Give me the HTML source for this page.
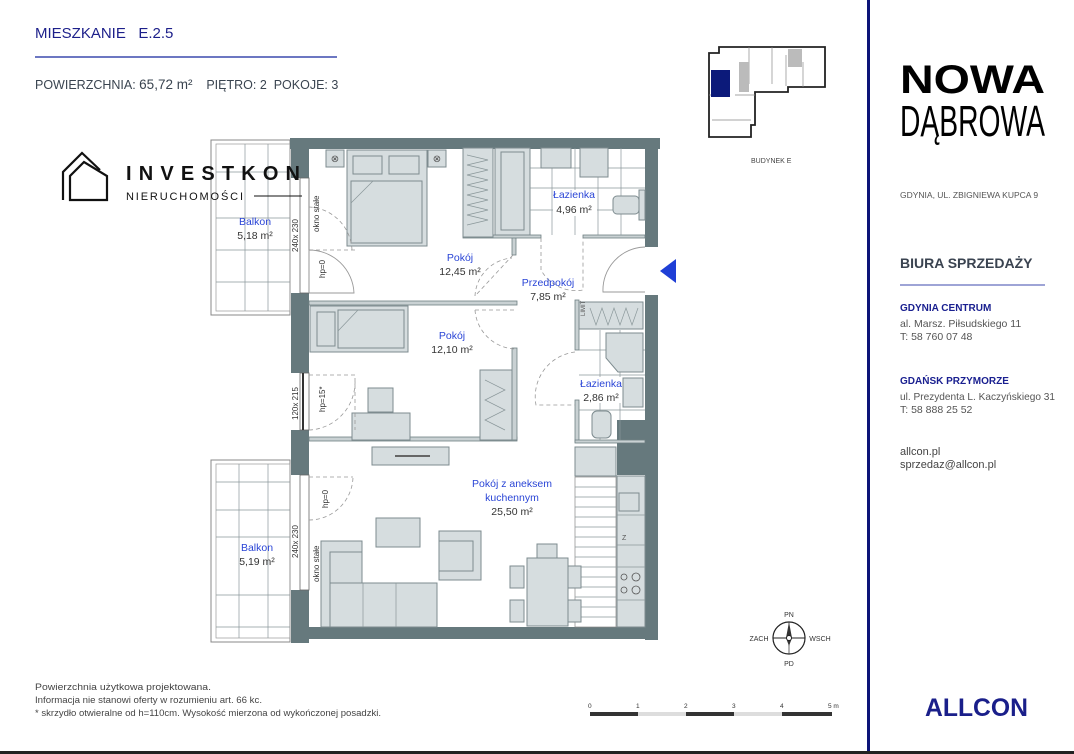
<!DOCTYPE html>
<html><head><meta charset="utf-8"><style>
html,body{margin:0;padding:0;background:#fff;}
svg{display:block;}
text{font-family:"Liberation Sans",sans-serif;}
.b{fill:#2a45d6;font-size:10.5px;text-anchor:middle;}
.d{fill:#333;font-size:10.5px;text-anchor:middle;}
.f{fill:#d6dddf;stroke:#7d8b8f;stroke-width:1;}
.g{stroke:#8a979a;stroke-width:0.7;fill:none;}
.w{fill:#66797d;}
.dash{stroke:#999;stroke-width:0.8;fill:none;stroke-dasharray:4,3;}
</style></head><body>
<svg width="1074" height="754" viewBox="0 0 1074 754" xmlns="http://www.w3.org/2000/svg">
<rect width="1074" height="754" fill="#fff"/>
<text x="35" y="38" fill="#1c1f8a" font-size="15">MIESZKANIE&#160;&#160;&#160;E.2.5</text>
<line x1="35" y1="57" x2="337" y2="57" stroke="#3c4aad" stroke-width="1.5"/>
<text x="35" y="89" fill="#3a4450" font-size="12.5">POWIERZCHNIA:  <tspan font-size="13.5">65,72 m²</tspan>&#160;&#160;&#160;&#160;PIĘTRO:  2&#160;&#160;POKOJE:  3</text>

<g>
<rect x="211" y="140" width="79" height="175" fill="#fff" stroke="#888" stroke-width="1"/>
<rect x="216" y="144" width="74" height="167" fill="none" stroke="#999" stroke-width="0.7"/>
<g class="g">
<line x1="245" y1="144" x2="245" y2="311"/><line x1="268" y1="144" x2="268" y2="311"/>
<line x1="216" y1="172" x2="290" y2="172"/><line x1="216" y1="218" x2="290" y2="218"/><line x1="216" y1="250" x2="290" y2="250"/><line x1="216" y1="282" x2="290" y2="282"/>
</g>
<rect x="211" y="460" width="79" height="182" fill="#fff" stroke="#888" stroke-width="1"/>
<rect x="216" y="464" width="74" height="174" fill="none" stroke="#999" stroke-width="0.7"/>
<g class="g">
<line x1="239" y1="464" x2="239" y2="638"/><line x1="268" y1="464" x2="268" y2="638"/>
<line x1="216" y1="482" x2="290" y2="482"/><line x1="216" y1="510" x2="290" y2="510"/><line x1="216" y1="537" x2="290" y2="537"/><line x1="216" y1="595" x2="290" y2="595"/><line x1="216" y1="627" x2="290" y2="627"/>
</g>
</g>
<text class="b" x="255" y="225">Balkon</text><text class="d" x="255" y="239">5,18 m²</text>
<text class="b" x="257" y="551">Balkon</text><text class="d" x="257" y="565">5,19 m²</text>

<rect class="w" x="290" y="138" width="370" height="11"/>
<rect class="w" x="291" y="138" width="18" height="40"/>
<rect class="w" x="291" y="293" width="18" height="80"/>
<rect class="w" x="291" y="430" width="18" height="45"/>
<rect class="w" x="291" y="590" width="18" height="53"/>
<rect class="w" x="645" y="138" width="13" height="109"/>
<rect class="w" x="645" y="295" width="13" height="345"/>
<rect class="w" x="300" y="627" width="358" height="12"/>
<rect class="w" x="617" y="420" width="28" height="55"/>
<g fill="#fff" stroke="#666" stroke-width="0.8">
<rect x="300" y="178" width="9" height="115"/><rect x="300" y="373" width="9" height="57"/><rect x="300" y="475" width="9" height="115"/>
</g>
<line x1="303" y1="373" x2="303" y2="430" stroke="#333" stroke-width="2"/>
<g fill="#c9d1d3" stroke="#6f7f83" stroke-width="0.8">
<rect x="309" y="301" width="208" height="4"/>
<rect x="309" y="437" width="208" height="4"/>
<rect x="512" y="348" width="5" height="92"/>
<rect x="512" y="235" width="4" height="20"/>
<rect x="463" y="235" width="78" height="3"/><rect x="583" y="235" width="62" height="3"/>
<rect x="575" y="300" width="4" height="50"/><rect x="575" y="400" width="4" height="42"/>
<rect x="575" y="440" width="70" height="3"/>
</g>
<rect class="f" x="326" y="150" width="18" height="17"/><rect class="f" x="428" y="150" width="18" height="17"/>
<text x="335" y="162" font-size="10" text-anchor="middle" fill="#555">⊗</text><text x="437" y="162" font-size="10" text-anchor="middle" fill="#555">⊗</text>
<rect class="f" x="347" y="150" width="80" height="96"/>
<rect class="f" x="353" y="156" width="29" height="18"/><rect class="f" x="389" y="156" width="30" height="18"/>
<rect class="f" x="351" y="181" width="71" height="62"/><polyline class="g" points="351,203 373,181"/>
<rect class="f" x="463" y="148" width="30" height="89"/>
<polyline class="g" points="467,155 488,160 467,165 488,170 467,175 488,180 467,185 488,190 467,195 488,200 467,205 488,210 467,215 488,220 467,225"/>
<rect class="f" x="495" y="148" width="35" height="87"/><rect class="f" x="501" y="152" width="23" height="78"/>
<g class="g">
<line x1="530" y1="168" x2="645" y2="168"/><line x1="530" y1="188" x2="645" y2="188"/><line x1="530" y1="210" x2="645" y2="210"/>
<line x1="552" y1="148" x2="552" y2="235"/><line x1="575" y1="148" x2="575" y2="235"/><line x1="598" y1="148" x2="598" y2="235"/><line x1="621" y1="148" x2="621" y2="235"/>
</g>
<rect class="f" x="541" y="148" width="30" height="20"/><rect class="f" x="580" y="148" width="28" height="29"/>
<rect class="f" x="613" y="196" width="26" height="18" rx="4"/><rect class="f" x="639" y="190" width="6" height="30"/>
<rect x="553" y="190" width="44" height="26" fill="#fff"/>
<rect class="f" x="310" y="306" width="98" height="46"/><rect class="f" x="317" y="312" width="18" height="34"/><rect class="f" x="338" y="310" width="66" height="38"/><polyline class="g" points="338,331 358,310"/>
<rect class="f" x="368" y="388" width="25" height="24"/><rect class="f" x="352" y="413" width="58" height="27"/>
<rect class="f" x="480" y="370" width="32" height="70"/>
<polyline class="g" points="485,380 505,390 485,400 505,410 485,420 505,430"/>
<rect class="f" x="372" y="447" width="77" height="18"/><line x1="395" y1="456" x2="430" y2="456" stroke="#666" stroke-width="2"/>
<rect class="f" x="579" y="302" width="64" height="27"/>
<polyline class="g" points="590,308 596,325 602,308 608,325 614,308 620,325 626,308 632,325 638,308"/>
<text x="585" y="316" font-size="6" fill="#555" transform="rotate(-90 585 316)">LIMIT</text>
<g class="g"><line x1="579" y1="350" x2="645" y2="350"/><line x1="579" y1="375" x2="645" y2="375"/><line x1="579" y1="410" x2="645" y2="410"/><line x1="600" y1="330" x2="600" y2="440"/><line x1="620" y1="330" x2="620" y2="440"/></g>
<polygon class="f" points="606,333 643,333 643,372 618,372 606,358"/>
<rect class="f" x="623" y="378" width="20" height="29"/>
<rect class="f" x="592" y="411" width="19" height="27" rx="5"/>
<rect x="582" y="377" width="40" height="26" fill="#fff"/>
<rect class="f" x="575" y="447" width="41" height="29"/>
<rect x="575" y="477" width="41" height="150" fill="#fff" stroke="#888" stroke-width="0.7"/>
<g class="g">
<line x1="575" y1="487" x2="616" y2="487"/><line x1="575" y1="497" x2="616" y2="497"/><line x1="575" y1="507" x2="616" y2="507"/><line x1="575" y1="517" x2="616" y2="517"/><line x1="575" y1="527" x2="616" y2="527"/><line x1="575" y1="537" x2="616" y2="537"/><line x1="575" y1="547" x2="616" y2="547"/><line x1="575" y1="557" x2="616" y2="557"/><line x1="575" y1="567" x2="616" y2="567"/><line x1="575" y1="577" x2="616" y2="577"/><line x1="575" y1="587" x2="616" y2="587"/><line x1="575" y1="597" x2="616" y2="597"/><line x1="575" y1="607" x2="616" y2="607"/><line x1="575" y1="617" x2="616" y2="617"/>
</g>
<rect class="f" x="617" y="476" width="28" height="151"/>
<g class="g"><line x1="617" y1="515" x2="645" y2="515"/><line x1="617" y1="545" x2="645" y2="545"/><line x1="617" y1="567" x2="645" y2="567"/><line x1="617" y1="600" x2="645" y2="600"/></g>
<rect class="f" x="619" y="493" width="20" height="18"/>
<g fill="none" stroke="#555" stroke-width="0.8"><circle cx="624" cy="577" r="3"/><circle cx="636" cy="577" r="4"/><circle cx="624" cy="590" r="3"/><circle cx="636" cy="590" r="4"/></g>
<text x="622" y="540" font-size="7" fill="#555">Z</text>
<rect class="f" x="376" y="518" width="44" height="29"/>
<rect class="f" x="439" y="531" width="42" height="49"/><rect class="f" x="439" y="541" width="34" height="30"/>
<rect class="f" x="321" y="541" width="41" height="86"/><rect class="f" x="330" y="552" width="32" height="75"/>
<rect class="f" x="330" y="583" width="107" height="44"/><line class="g" x1="363" y1="583" x2="363" y2="627"/><line class="g" x1="396" y1="583" x2="396" y2="627"/>
<rect class="f" x="537" y="544" width="20" height="15"/>
<rect class="f" x="510" y="566" width="14" height="22"/><rect class="f" x="510" y="600" width="14" height="22"/>
<rect class="f" x="567" y="566" width="14" height="22"/><rect class="f" x="567" y="600" width="14" height="22"/>
<rect class="f" x="527" y="558" width="41" height="68"/>
<path class="dash" d="M309 250 L358 250 M352 250 A45 45 0 0 0 309 207"/>
<path d="M309 250 L309 293 M309 250 A45 45 0 0 1 354 293 L309 293" fill="none" stroke="#999" stroke-width="0.9"/>
<path class="dash" d="M309 375 L355 375 L355 430 M309 430 A48 48 0 0 0 355 380"/>
<path class="dash" d="M309 477 L353 477 M309 520 A44 44 0 0 0 353 477"/>
<path class="dash" d="M513 255 L475 296 L475 295 M475 296 A40 40 0 0 1 512 258"/>
<path class="dash" d="M475 310 L517 310 M475 310 A42 42 0 0 0 515 349"/>
<path class="dash" d="M541 238 L541 270 A40 40 0 0 0 583 290 L583 238"/>
<path class="dash" d="M575 352 A45 45 0 0 0 536 405 L575 405"/>
<path d="M645 247 A43 43 0 0 0 603 292 L645 292" fill="none" stroke="#999" stroke-width="0.9"/>
<polygon points="660,271 676,259 676,283" fill="#1f3fd6"/>
<g font-size="8" fill="#333">
<text transform="translate(298,252) rotate(-90)">240x 230</text>
<text transform="translate(319,232) rotate(-90)">okno stałe</text>
<text transform="translate(325,278) rotate(-90)">hp=0</text>
<text transform="translate(298,420) rotate(-90)">120x 215</text>
<text transform="translate(325,412) rotate(-90)">hp=15*</text>
<text transform="translate(298,558) rotate(-90)">240x 230</text>
<text transform="translate(319,582) rotate(-90)">okno stałe</text>
<text transform="translate(328,508) rotate(-90)">hp=0</text>
</g>
<text class="b" x="460" y="261">Pokój</text><text class="d" x="460" y="275">12,45 m²</text>
<text class="b" x="548" y="286">Przedpokój</text><text class="d" x="548" y="300">7,85 m²</text>
<text class="b" x="574" y="198">Łazienka</text><text class="d" x="574" y="213">4,96 m²</text>
<text class="b" x="452" y="339">Pokój</text><text class="d" x="452" y="353">12,10 m²</text>
<text class="b" x="601" y="387">Łazienka</text><text class="d" x="601" y="401">2,86 m²</text>
<text class="b" x="512" y="487">Pokój z aneksem</text><text class="b" x="512" y="501">kuchennym</text><text class="d" x="512" y="515">25,50 m²</text>

<path d="M63 200 L63 172 L82 153 L100 170" fill="none" stroke="#111" stroke-width="2.2"/>
<path d="M70 200 L70 176 L84 162 L107 176 L107 200 Z" fill="none" stroke="#111" stroke-width="2.2"/>
<text x="126" y="180" font-size="20" font-weight="bold" textLength="174" lengthAdjust="spacing" fill="#111">INVESTKON</text>
<text x="126" y="200" font-size="11" textLength="117" lengthAdjust="spacing" fill="#111">NIERUCHOMOŚCI</text>
<line x1="254" y1="196" x2="302" y2="196" stroke="#111" stroke-width="1"/>

<g fill="#fff" stroke="#222" stroke-width="1.8">
<path d="M709 53 L719 53 L719 47 L825 47 L825 87 L788 87 L788 92 L755 92 L755 125 L751 125 L751 137 L709 137 Z"/>
</g>
<g fill="none" stroke="#888" stroke-width="0.7">
<line x1="749" y1="47" x2="749" y2="84"/><line x1="772" y1="47" x2="772" y2="84"/><line x1="786" y1="55" x2="786" y2="86"/><line x1="803" y1="62" x2="803" y2="87"/><line x1="709" y1="95" x2="730" y2="95"/><line x1="712" y1="120" x2="751" y2="120"/><line x1="735" y1="95" x2="755" y2="95"/>
</g>
<rect x="739" y="62" width="10" height="30" fill="#bbb"/><rect x="788" y="49" width="14" height="18" fill="#bbb"/>
<rect x="711" y="70" width="19" height="27" fill="#0c1a7a"/>
<text x="751" y="163" font-size="7" fill="#444">BUDYNEK E</text>

<rect x="867" y="0" width="3" height="754" fill="#0c1478"/>
<rect x="0" y="751" width="1074" height="3" fill="#222"/>

<text x="900" y="93" font-size="40" font-weight="bold" fill="#000" textLength="145" lengthAdjust="spacingAndGlyphs">NOWA</text>
<text x="900" y="136" font-size="44" fill="#000" textLength="145" lengthAdjust="spacingAndGlyphs">DĄBROWA</text>
<text x="900" y="198" font-size="8.5" fill="#555">GDYNIA, UL. ZBIGNIEWA KUPCA 9</text>
<text x="900" y="268" font-size="14" font-weight="bold" fill="#3a4350">BIURA SPRZEDAŻY</text>
<line x1="900" y1="285" x2="1045" y2="285" stroke="#3c4aad" stroke-width="1"/>
<text x="900" y="311" font-size="10" font-weight="bold" fill="#1a2090">GDYNIA CENTRUM</text>
<text x="900" y="327" font-size="10.5" fill="#555">al. Marsz. Piłsudskiego 11</text>
<text x="900" y="340" font-size="10.5" fill="#555">T: 58 760 07 48</text>
<text x="900" y="384" font-size="10" font-weight="bold" fill="#1a2090">GDAŃSK PRZYMORZE</text>
<text x="900" y="400" font-size="10.5" fill="#555" textLength="155" lengthAdjust="spacingAndGlyphs">ul. Prezydenta L. Kaczyńskiego 31</text>
<text x="900" y="413" font-size="10.5" fill="#555">T: 58 888 25 52</text>
<text x="900" y="455" font-size="11" fill="#444">allcon.pl</text>
<text x="900" y="468" font-size="11" fill="#444">sprzedaz@allcon.pl</text>
<text x="925" y="716" font-size="25" font-weight="bold" fill="#1a1f8a" textLength="103" lengthAdjust="spacingAndGlyphs">ALLCON</text>

<circle cx="789" cy="638" r="16" fill="#fff" stroke="#222" stroke-width="1.2"/>
<line x1="773" y1="638" x2="805" y2="638" stroke="#222" stroke-width="1"/>
<line x1="789" y1="622" x2="789" y2="654" stroke="#444" stroke-width="0.8"/>
<polygon points="789,622 792,638 789,646 786,638" fill="#333"/>
<circle cx="789" cy="638" r="2.5" fill="#fff" stroke="#222"/>
<g font-size="7" fill="#333" text-anchor="middle"><text x="789" y="617">PN</text><text x="789" y="666">PD</text><text x="759" y="641">ZACH</text><text x="820" y="641">WSCH</text></g>

<g font-size="6.5" fill="#333"><text x="588" y="708">0</text><text x="636" y="708">1</text><text x="684" y="708">2</text><text x="732" y="708">3</text><text x="780" y="708">4</text><text x="828" y="708">5 m</text></g>
<rect x="590" y="712" width="48" height="4" fill="#333"/><rect x="638" y="712" width="48" height="4" fill="#ddd"/><rect x="686" y="712" width="48" height="4" fill="#333"/><rect x="734" y="712" width="48" height="4" fill="#ddd"/><rect x="782" y="712" width="50" height="4" fill="#333"/>

<g font-size="9" fill="#444">
<text x="35" y="690" textLength="176" lengthAdjust="spacingAndGlyphs">Powierzchnia użytkowa projektowana.</text>
<text x="35" y="703" textLength="227" lengthAdjust="spacingAndGlyphs">Informacja nie stanowi oferty w rozumieniu art. 66 kc.</text>
<text x="35" y="716" textLength="346" lengthAdjust="spacingAndGlyphs">* skrzydło otwieralne od h=110cm. Wysokość mierzona od wykończonej posadzki.</text>
</g>
</svg>
</body></html>
